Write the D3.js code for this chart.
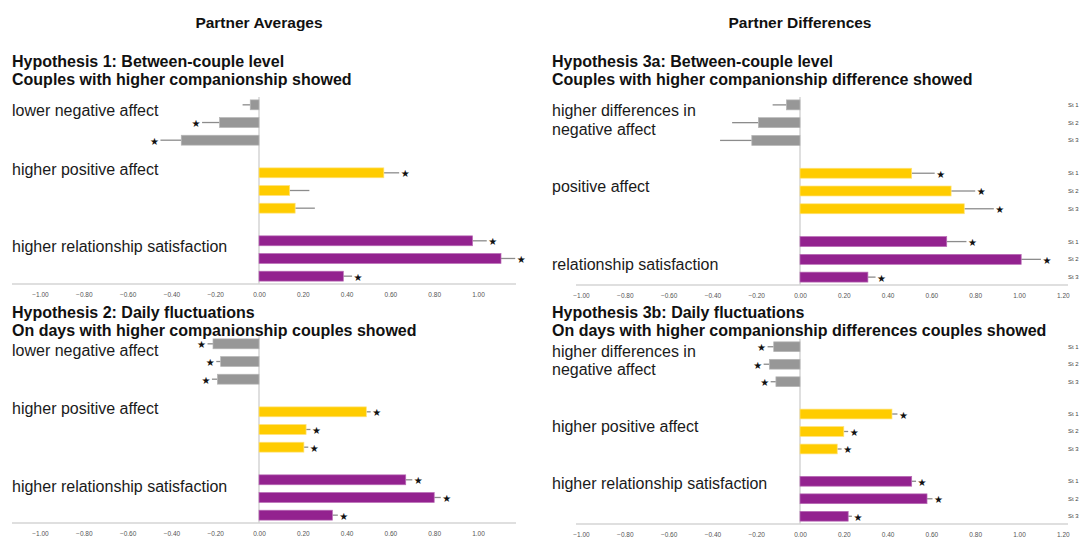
<!DOCTYPE html>
<html>
<head>
<meta charset="utf-8">
<script src="https://cdn.jsdelivr.net/npm/d3@7"></script>
<style>
  body { margin: 0; background: #fff; }
  svg { font-family: "Liberation Sans", Arial, sans-serif; }
</style>
</head>
<body>
<div id="chart"></div>
<script>
(() => {

  // studies (rows inside each outcome group)
  var studies = ["St 1", "St 2", "St 3"];
  var outcomes = ["negative", "positive", "satisfaction"];
  var leftTicks = [-1.0, -0.8, -0.6, -0.4, -0.2, 0.0, 0.2, 0.4, 0.6, 0.8, 1.0];
  var rightTicks = [-1.0, -0.8, -0.6, -0.4, -0.2, 0.0, 0.2, 0.4, 0.6, 0.8, 1.0, 1.2];

  // Hypothesis 1 (partner averages, between-couple)
  var h1Values = [[-0.04, -0.18, -0.355], [0.57, 0.14, 0.165], [0.975, 1.105, 0.385]];
  var h1Ends   = [[-0.075, -0.26, -0.45], [0.64, 0.23, 0.255], [1.04, 1.17, 0.425]];
  var h1Stars  = [[0, 1, 1], [1, 0, 0], [1, 1, 1]];

  // Hypothesis 2 (partner averages, daily)
  var h2Values = [[-0.21, -0.175, -0.19], [0.49, 0.215, 0.205], [0.67, 0.80, 0.335]];
  var h2Ends   = [[-0.235, -0.195, -0.215], [0.51, 0.235, 0.225], [0.70, 0.83, 0.36]];
  var h2Stars  = [[1, 1, 1], [1, 1, 1], [1, 1, 1]];

  // Hypothesis 3a (partner differences, between-couple)
  var h3aValues = [[-0.062, -0.19, -0.22], [0.51, 0.69, 0.75], [0.67, 1.01, 0.31]];
  var h3aEnds   = [[-0.125, -0.31, -0.365], [0.615, 0.80, 0.885], [0.76, 1.10, 0.345]];
  var h3aStars  = [[0, 0, 0], [1, 1, 1], [1, 1, 1]];

  // Hypothesis 3b (partner differences, daily)
  var h3bValues = [[-0.12, -0.14, -0.11], [0.42, 0.20, 0.17], [0.51, 0.58, 0.22]];
  var h3bEnds   = [[-0.148, -0.166, -0.134], [0.445, 0.22, 0.19], [0.53, 0.605, 0.237]];
  var h3bStars  = [[1, 1, 1], [1, 1, 1], [1, 1, 1]];

  var colors = { negative: "#979797", positive: "#ffcc00", satisfaction: "#93228f" };
  var strokes = { negative: "#b5b5b5", positive: "#ffe27a", satisfaction: "#b86bb5" };

  var panels = [
    {
      values: h1Values, ends: h1Ends, stars: h1Stars, ticks: leftTicks,
      x0: 40, x1: 478, axisFrom: 12, axisTo: 516, top: 96, bottom: 285, axisY: 284,
      headX: 12, headY: 61,
      heading: ["Hypothesis 1: Between-couple level", "Couples with higher companionship showed"],
      labels: [["lower negative affect"], ["higher positive affect"], ["higher relationship satisfaction"]],
      labelDy: [[-12], [-21], [-12]], labelX: 12, stLabels: false
    },
    {
      values: h2Values, ends: h2Ends, stars: h2Stars, ticks: leftTicks,
      x0: 40, x1: 478, axisFrom: 12, axisTo: 516, top: 335, bottom: 524, axisY: 523,
      headX: 12, headY: 312,
      heading: ["Hypothesis 2: Daily fluctuations", "On days with higher companionship couples showed"],
      labels: [["lower negative affect"], ["higher positive affect"], ["higher relationship satisfaction"]],
      labelDy: [[-11], [-21], [-11]], labelX: 12, stLabels: false
    },
    {
      values: h3aValues, ends: h3aEnds, stars: h3aStars, ticks: rightTicks,
      x0: 581, x1: 1019, axisFrom: 576, axisTo: 1068, top: 96, bottom: 286, axisY: 285,
      headX: 552, headY: 61,
      heading: ["Hypothesis 3a: Between-couple level", "Couples with higher companionship difference showed"],
      labels: [["higher differences in", "negative affect"], ["positive affect"], ["relationship satisfaction"]],
      labelDy: [[-12, 7], [-4], [5]], labelX: 552, stLabels: true
    },
    {
      values: h3bValues, ends: h3bEnds, stars: h3bStars, ticks: rightTicks,
      x0: 581, x1: 1019, axisFrom: 576, axisTo: 1068, top: 338, bottom: 525, axisY: 524,
      headX: 552, headY: 312,
      heading: ["Hypothesis 3b: Daily fluctuations", "On days with higher companionship differences couples showed"],
      labels: [["higher differences in", "negative affect"], ["higher positive affect"], ["higher relationship satisfaction"]],
      labelDy: [[-13, 5], [-5], [-15]], labelX: 552, stLabels: true
    }
  ];

  var svg = d3.select("#chart").append("svg")
    .attr("width", 1084)
    .attr("height", 538);

  svg.append("text")
    .attr("x", 259).attr("y", 22)
    .attr("text-anchor", "middle").attr("dominant-baseline", "central")
    .style("font-size", "15.5px").style("font-weight", "bold").style("fill", "#111")
    .text("Partner Averages");

  svg.append("text")
    .attr("x", 800).attr("y", 22)
    .attr("text-anchor", "middle").attr("dominant-baseline", "central")
    .style("font-size", "15.5px").style("font-weight", "bold").style("fill", "#111")
    .text("Partner Differences");

  panels.forEach(p => {
    var g = svg.append("g");

    var xScale = d3.scaleLinear().domain([-1, 1]).range([p.x0, p.x1]);
    var yGroup = d3.scaleBand().domain(outcomes).range([p.top, p.bottom]).paddingInner(0.22);
    var yStudy = d3.scaleBand().domain(studies).range([0, yGroup.bandwidth()]).paddingInner(0.44).paddingOuter(0.22);

    // headings
    g.selectAll("text.head")
      .data(p.heading)
      .enter().append("text")
      .attr("class", "head")
      .attr("x", p.headX)
      .attr("y", (d, i) => p.headY + i * 18)
      .attr("dominant-baseline", "central")
      .style("font-size", "16px").style("font-weight", "bold").style("fill", "#111")
      .text(d => d);

    // x axis
    var axis = g.append("g")
      .attr("transform", "translate(0," + p.axisY + ")")
      .call(d3.axisBottom(xScale).tickValues(p.ticks).tickSize(0).tickPadding(8).tickFormat(d3.format(".2f")));
    axis.select(".domain").remove();
    axis.selectAll("text")
      .style("font-size", "6.5px").style("fill", "#555")
      .style("font-family", "\"Liberation Sans\", Arial, sans-serif");
    g.append("line")
      .attr("x1", p.axisFrom).attr("x2", p.axisTo)
      .attr("y1", p.axisY).attr("y2", p.axisY)
      .attr("stroke", "#d4d4d4").attr("stroke-width", 1.3);

    // zero line
    g.append("line")
      .attr("x1", xScale(0)).attr("x2", xScale(0))
      .attr("y1", p.top + 1).attr("y2", p.axisY)
      .attr("stroke", "#d4d4d4").attr("stroke-width", 1.5);

    outcomes.forEach((o, oi) => {
      var rows = studies.map((s, si) => ({
        study: s, value: p.values[oi][si], end: p.ends[oi][si], star: p.stars[oi][si]
      }));
      var cg = g.append("g").attr("transform", "translate(0," + yGroup(o) + ")");

      cg.selectAll("line.err")
        .data(rows)
        .enter().append("line")
        .attr("class", "err")
        .attr("x1", d => xScale(d.value))
        .attr("x2", d => xScale(d.end))
        .attr("y1", d => yStudy(d.study) + yStudy.bandwidth() / 2)
        .attr("y2", d => yStudy(d.study) + yStudy.bandwidth() / 2)
        .attr("stroke", "#8c8c8c").attr("stroke-width", 1.3);

      cg.selectAll("rect")
        .data(rows)
        .enter().append("rect")
        .attr("x", d => Math.min(xScale(0), xScale(d.value)))
        .attr("width", d => Math.abs(xScale(d.value) - xScale(0)))
        .attr("y", d => yStudy(d.study))
        .attr("height", yStudy.bandwidth())
        .attr("fill", colors[o])
        .attr("stroke", strokes[o]).attr("stroke-width", 0.7);

      cg.selectAll("text.star")
        .data(rows.filter(d => d.star))
        .enter().append("text")
        .attr("class", "star")
        .attr("x", d => xScale(d.end) + (d.end < 0 ? -6 : 6))
        .attr("y", d => yStudy(d.study) + yStudy.bandwidth() / 2 + 1)
        .attr("text-anchor", "middle").attr("dominant-baseline", "central")
        .style("font-size", "10px").style("fill", "#111")
        .style("font-family", "\"DejaVu Sans\", sans-serif")
        .text("★");

      if (p.stLabels) {
        cg.selectAll("text.st")
          .data(rows)
          .enter().append("text")
          .attr("class", "st")
          .attr("x", 1068)
          .attr("y", d => yStudy(d.study) + yStudy.bandwidth() / 2)
          .attr("dominant-baseline", "central")
          .style("font-size", "6px").style("fill", "#444")
          .text(d => d.study);
      }

      // outcome label
      var mid = yStudy("St 2") + yStudy.bandwidth() / 2;
      cg.selectAll("text.lab")
        .data(p.labels[oi])
        .enter().append("text")
        .attr("class", "lab")
        .attr("x", p.labelX)
        .attr("y", (d, i) => mid + p.labelDy[oi][i])
        .attr("dominant-baseline", "central")
        .style("font-size", "16px").style("fill", "#1a1a1a")
        .text(d => d);
    });
  });

})();
</script>
</body>
</html>
